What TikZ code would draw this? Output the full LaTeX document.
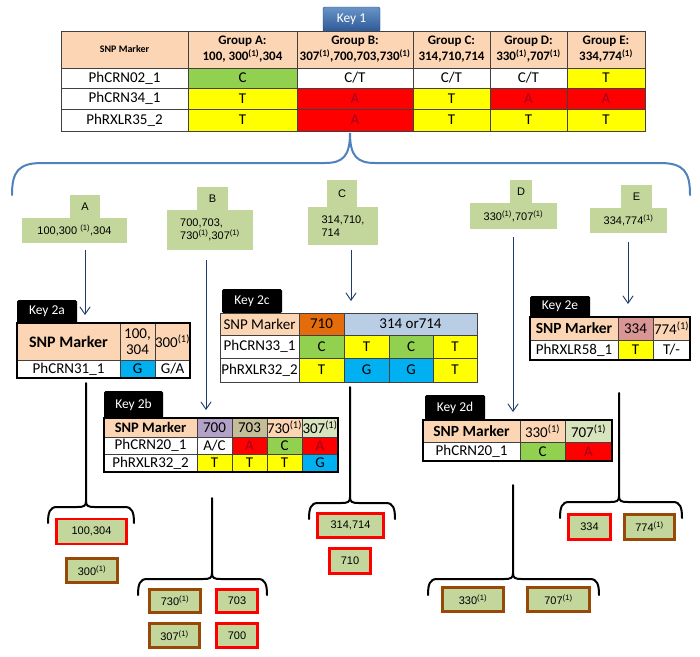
\documentclass[tikz,border=0pt]{standalone}
\usepackage{fontspec}
\setmainfont{Carlito}
\newfontfamily\arialfont{Liberation Sans}
\usepackage{tikz}
\usetikzlibrary{arrows.meta}
\definecolor{peach}{HTML}{FCD5B4}
\definecolor{snpgreen}{HTML}{92D050}
\definecolor{snpyellow}{HTML}{FFFF00}
\definecolor{snpred}{HTML}{FF0000}
\definecolor{snpblue}{HTML}{00B0F0}
\definecolor{redtext}{HTML}{A00020}
\definecolor{lavender}{HTML}{B3A2C7}
\definecolor{khaki}{HTML}{C4BD97}
\definecolor{palegreen}{HTML}{D7E4BD}
\definecolor{burnt}{HTML}{E46C0A}
\definecolor{paleblue}{HTML}{B9CDE5}
\definecolor{rose}{HTML}{D99694}
\definecolor{sage}{HTML}{C3D69B}
\definecolor{brownline}{HTML}{984807}
\definecolor{braceblue}{HTML}{4F81BD}
\definecolor{keyblue}{HTML}{2B5797}
\definecolor{navy}{HTML}{1F3A6E}
\tikzset{
  cell/.style={
    rectangle,
    draw=black!75,
    line width=0.5pt,
    inner sep=0pt,
    align=center,
    text=black,
    font=\fontsize{15}{16}\selectfont
  },
  headcell/.style={cell, font=\fontsize{13}{16}\selectfont\bfseries},
  keytab/.style={
    rectangle,
    fill=black,
    text=white,
    rounded corners=1.5pt,
    inner sep=0pt,
    font=\fontsize{13.5}{14}\selectfont
  },
  keybutton/.style={
    rectangle,
    rounded corners=2pt,
    top color=braceblue!85!white,
    bottom color=keyblue,
    draw=keyblue!80!black,
    line width=0.4pt,
    text=white,
    inner sep=0pt,
    font=\fontsize{13.5}{14}\selectfont
  },
  keyframe/.style={draw=black, line width=1.6pt},
  grouptag/.style={
    rectangle,
    fill=sage,
    inner sep=0pt,
    align=left,
    font=\arialfont\fontsize{11}{13}\selectfont
  },
  isolate/.style={
    rectangle,
    fill=sage,
    line width=2.4pt,
    inner sep=0pt,
    font=\arialfont\fontsize{11}{13}\selectfont
  },
  redbox/.style={isolate, draw=snpred},
  brownbox/.style={isolate, draw=brownline},
  pointer/.style={
    draw=navy,
    line width=0.9pt,
    -{Straight Barb[length=2.6mm,width=3.6mm]}
  },
  fork/.style={draw=black, line width=2pt, line cap=round},
  bigbrace/.style={draw=braceblue, line width=2pt, line cap=round}
}
% one table cell: [extra style] name, x1, y1, x2, y2, fill, text
\newcommand{\gridcell}[8][]{%
  \node[cell, #1, fill=#7, minimum width={(#5-#3)*1pt}, minimum height={(#6-#4)*1pt}]
    (#2) at ({(#3+#5)/2},{(#4+#6)/2}) {#8};}
% black split brace: stem x, stem top, bar y, left end x, right end x
\newcommand{\forkbrace}[5]{%
  \draw[fork] (#1,#2) -- (#1,#3-6)
    .. controls (#1,#3-1) and (#1-2,#3) .. (#1-9,#3) -- (#4+9,#3)
    .. controls (#4+2,#3) and (#4,#3+5) .. (#4,#3+16);
  \draw[fork] (#1,#3-6)
    .. controls (#1,#3-1) and (#1+2,#3) .. (#1+9,#3) -- (#5-9,#3)
    .. controls (#5-2,#3) and (#5,#3+5) .. (#5,#3+16);}
\newcommand{\sone}{\textsuperscript{(1)}}
\newcommand{\redA}{\textcolor{redtext}{A}}

\begin{document}
\begin{tikzpicture}[x=1pt, y=-1pt]
\useasboundingbox (0,0) rectangle (700,656);
\fill[white] (0,0) rectangle (700,656);

% ---- Key 1: group table ----
\node[keybutton, minimum width=57, minimum height=25] (key1) at (351.5,19.5) {Key 1};

\gridcell[headcell, font=\fontsize{10}{12}\selectfont\bfseries]{k1h0}{61}{31}{188}{68}{peach}{SNP Marker}
\gridcell[headcell]{k1h1}{188}{31}{297}{68}{peach}{Group A:\\100, 300\sone,304}
\gridcell[headcell]{k1h2}{297}{31}{413}{68}{peach}{Group B:\\307\sone,700,703,730\sone}
\gridcell[headcell]{k1h3}{413}{31}{490}{68}{peach}{Group C:\\314,710,714}
\gridcell[headcell]{k1h4}{490}{31}{567}{68}{peach}{Group D:\\330\sone,707\sone}
\gridcell[headcell]{k1h5}{567}{31}{645}{68}{peach}{Group E:\\334,774\sone}

\gridcell{k1a0}{61}{68}{188}{88}{white}{PhCRN02\_1}
\gridcell{k1a1}{188}{68}{297}{88}{snpgreen}{C}
\gridcell{k1a2}{297}{68}{413}{88}{white}{C/T}
\gridcell{k1a3}{413}{68}{490}{88}{white}{C/T}
\gridcell{k1a4}{490}{68}{567}{88}{white}{C/T}
\gridcell{k1a5}{567}{68}{645}{88}{snpyellow}{T}

\gridcell{k1b0}{61}{88}{188}{109}{white}{PhCRN34\_1}
\gridcell{k1b1}{188}{88}{297}{109}{snpyellow}{T}
\gridcell{k1b2}{297}{88}{413}{109}{snpred}{\redA}
\gridcell{k1b3}{413}{88}{490}{109}{snpyellow}{T}
\gridcell{k1b4}{490}{88}{567}{109}{snpred}{\redA}
\gridcell{k1b5}{567}{88}{645}{109}{snpred}{\redA}

\gridcell{k1c0}{61}{109}{188}{131}{white}{PhRXLR35\_2}
\gridcell{k1c1}{188}{109}{297}{131}{snpyellow}{T}
\gridcell{k1c2}{297}{109}{413}{131}{snpred}{\redA}
\gridcell{k1c3}{413}{109}{490}{131}{snpyellow}{T}
\gridcell{k1c4}{490}{109}{567}{131}{snpyellow}{T}
\gridcell{k1c5}{567}{109}{645}{131}{snpyellow}{T}

% ---- Blue brace splitting into groups ----
\coordinate (braceL) at (12,195);
\coordinate (braceTip) at (350,133);
\coordinate (braceR) at (690,195);
\draw[bigbrace] (braceL) .. controls (12,172) and (18,163) .. (42,163) -- (325,163)
  .. controls (343,163) and (350,156) .. (braceTip)
  .. controls (350,156) and (357,163) .. (375,163) -- (660,163)
  .. controls (684,163) and (690,172) .. (braceR);

% ---- Group tags ----
\node[grouptag, minimum width=30, minimum height=23] (tagA) at (85,206.5) {A};
\node[grouptag, minimum width=105, minimum height=25] (grpA) at (74.5,230.5) {100,300 \sone,304};
\node[grouptag, minimum width=31, minimum height=23] (tagB) at (212.5,198.5) {B};
\node[grouptag, minimum width=86, minimum height=40] (grpB) at (210,230) {700,703,\\730\sone,307\sone};
\node[grouptag, minimum width=30, minimum height=27] (tagC) at (342,193.5) {C};
\node[grouptag, minimum width=70, minimum height=38] (grpC) at (343,226) {314,710,\\714\hphantom{,710,}};
\node[grouptag, minimum width=22, minimum height=23] (tagD) at (521,191.5) {D};
\node[grouptag, minimum width=87, minimum height=26] (grpD) at (513.5,216) {330\sone,707\sone};
\node[grouptag, minimum width=31, minimum height=23] (tagE) at (636.5,196.5) {E};
\node[grouptag, minimum width=77, minimum height=25] (grpE) at (628.5,220.5) {334,774\sone};

% ---- Pointers down to the second keys ----
\coordinate (aTop) at (85,250);  \coordinate (aEnd) at (85,315);
\coordinate (bTop) at (206,260); \coordinate (bEnd) at (206,410);
\coordinate (cTop) at (351,250); \coordinate (cEnd) at (351,301);
\coordinate (dTop) at (513,237); \coordinate (dEnd) at (513,412);
\coordinate (eTop) at (628,242); \coordinate (eEnd) at (628,304);
\draw[pointer] (aTop) -- (aEnd);
\draw[pointer] (bTop) -- (bEnd);
\draw[pointer] (cTop) -- (cEnd);
\draw[pointer] (dTop) -- (dEnd);
\draw[pointer] (eTop) -- (eEnd);

% ---- Key 2a ----
\node[keytab, minimum width=60, minimum height=23] (tab2a) at (47,311.5) {Key 2a};
\begin{scope}[every node/.append style={font=\fontsize{16}{17}\selectfont}]
\gridcell[font=\fontsize{16}{17}\selectfont\bfseries]{k2ah0}{17}{323}{120}{360}{peach}{SNP Marker}
\gridcell{k2ah1}{120}{323}{155}{360}{peach}{100,\\304}
\gridcell{k2ah2}{155}{323}{190}{360}{peach}{300\sone}
\gridcell{k2aa0}{17}{360}{120}{378}{white}{PhCRN31\_1}
\gridcell{k2aa1}{120}{360}{155}{378}{snpblue}{G}
\gridcell{k2aa2}{155}{360}{190}{378}{white}{G/A}
\end{scope}
\draw[keyframe] (k2ah0.north west) rectangle (k2aa2.south east);

% ---- Key 2b ----
\node[keytab, minimum width=59, minimum height=27] (tab2b) at (133.5,404.5) {Key 2b};
\begin{scope}[every node/.append style={font=\fontsize{14.5}{15}\selectfont}]
\gridcell[font=\fontsize{14.5}{15}\selectfont\bfseries]{k2bh0}{104}{418}{197}{437}{peach}{SNP Marker}
\gridcell{k2bh1}{197}{418}{232}{437}{lavender}{700}
\gridcell{k2bh2}{232}{418}{267}{437}{khaki}{703}
\gridcell{k2bh3}{267}{418}{302}{437}{peach}{730\sone}
\gridcell{k2bh4}{302}{418}{338}{437}{palegreen}{307\sone}
\gridcell{k2ba0}{104}{437}{197}{454}{white}{PhCRN20\_1}
\gridcell{k2ba1}{197}{437}{232}{454}{white}{A/C}
\gridcell{k2ba2}{232}{437}{267}{454}{snpred}{\redA}
\gridcell{k2ba3}{267}{437}{302}{454}{snpgreen}{C}
\gridcell{k2ba4}{302}{437}{338}{454}{snpred}{\redA}
\gridcell{k2bb0}{104}{454}{197}{472}{white}{PhRXLR32\_2}
\gridcell{k2bb1}{197}{454}{232}{472}{snpyellow}{T}
\gridcell{k2bb2}{232}{454}{267}{472}{snpyellow}{T}
\gridcell{k2bb3}{267}{454}{302}{472}{snpyellow}{T}
\gridcell{k2bb4}{302}{454}{338}{472}{snpblue}{G}
\end{scope}
\draw[keyframe] (k2bh0.north west) rectangle (k2bb4.south east);

% ---- Key 2c ----
\node[keytab, minimum width=60, minimum height=24] (tab2c) at (252,301) {Key 2c};
\begin{scope}[every node/.append style={font=\fontsize{15.5}{16}\selectfont}]
\gridcell{k2ch0}{220}{313}{299}{335}{peach}{SNP Marker}
\gridcell{k2ch1}{299}{313}{344}{335}{burnt}{710}
\gridcell{k2ch2}{344}{313}{477}{335}{paleblue}{314 or714}
\gridcell{k2ca0}{220}{335}{299}{358}{white}{PhCRN33\_1}
\gridcell{k2ca1}{299}{335}{344}{358}{snpgreen}{C}
\gridcell{k2ca2}{344}{335}{389}{358}{snpyellow}{T}
\gridcell{k2ca3}{389}{335}{433}{358}{snpgreen}{C}
\gridcell{k2ca4}{433}{335}{477}{358}{snpyellow}{T}
\gridcell{k2cb0}{220}{358}{299}{382}{white}{PhRXLR32\_2}
\gridcell{k2cb1}{299}{358}{344}{382}{snpyellow}{T}
\gridcell{k2cb2}{344}{358}{389}{382}{snpblue}{G}
\gridcell{k2cb3}{389}{358}{433}{382}{snpblue}{G}
\gridcell{k2cb4}{433}{358}{477}{382}{snpyellow}{T}
\end{scope}

% ---- Key 2d ----
\node[keytab, minimum width=60, minimum height=25] (tab2d) at (455,407.5) {Key 2d};
\begin{scope}[every node/.append style={font=\fontsize{15.5}{16}\selectfont}]
\gridcell[font=\fontsize{15.5}{16}\selectfont\bfseries]{k2dh0}{423}{420}{520}{442}{peach}{SNP Marker}
\gridcell{k2dh1}{520}{420}{565}{442}{peach}{330\sone}
\gridcell{k2dh2}{565}{420}{612}{442}{palegreen}{707\sone}
\gridcell{k2da0}{423}{442}{520}{461}{white}{PhCRN20\_1}
\gridcell{k2da1}{520}{442}{565}{461}{snpgreen}{C}
\gridcell{k2da2}{565}{442}{612}{461}{snpred}{\redA}
\end{scope}
\draw[keyframe] (k2dh0.north west) rectangle (k2da2.south east);

% ---- Key 2e ----
\node[keytab, minimum width=60, minimum height=21] (tab2e) at (560,306.5) {Key 2e};
\begin{scope}[every node/.append style={font=\fontsize{15.5}{16}\selectfont}]
\gridcell[font=\fontsize{15.5}{16}\selectfont\bfseries]{k2eh0}{530}{317}{618}{340}{peach}{SNP Marker}
\gridcell{k2eh1}{618}{317}{653}{340}{rose}{334}
\gridcell{k2eh2}{653}{317}{690}{340}{peach}{774\sone}
\gridcell{k2ea0}{530}{340}{618}{360}{white}{PhRXLR58\_1}
\gridcell{k2ea1}{618}{340}{653}{360}{snpyellow}{T}
\gridcell{k2ea2}{653}{340}{690}{360}{white}{T/-}
\end{scope}
\draw[keyframe] (k2eh0.north west) rectangle (k2ea2.south east);

% ---- Split braces under each key ----
\forkbrace{86}{383}{507}{48}{134}
\forkbrace{212}{498}{579}{138}{267}
\forkbrace{350}{387}{503}{309}{395}
\forkbrace{513}{485}{579}{428}{599}
\forkbrace{619}{393}{502}{560}{682}

% ---- Isolates ----
\node[redbox, minimum width=70, minimum height=25] (isoA1) at (91.5,531.5) {100,304};
\node[brownbox, minimum width=51, minimum height=24] (isoA2) at (92,570.5) {300\sone};

\node[brownbox, minimum width=51, minimum height=23] (isoB1) at (175,601) {730\sone};
\node[redbox, minimum width=41, minimum height=23] (isoB2) at (237,601) {703};
\node[brownbox, minimum width=50, minimum height=24] (isoB3) at (174.5,635.5) {307\sone};
\node[redbox, minimum width=41, minimum height=24] (isoB4) at (237,635.5) {700};

\node[redbox, minimum width=66, minimum height=24] (isoC1) at (350.5,525.5) {314,714};
\node[redbox, minimum width=41, minimum height=25] (isoC2) at (350,561) {710};

\node[brownbox, minimum width=61, minimum height=24] (isoD1) at (473,599.5) {330\sone};
\node[brownbox, minimum width=62, minimum height=24] (isoD2) at (558.5,599.5) {707\sone};

\node[redbox, minimum width=42, minimum height=25] (isoE1) at (589.5,527) {334};
\node[brownbox, minimum width=50, minimum height=25] (isoE2) at (649.5,527) {774\sone};

\end{tikzpicture}
\end{document}
